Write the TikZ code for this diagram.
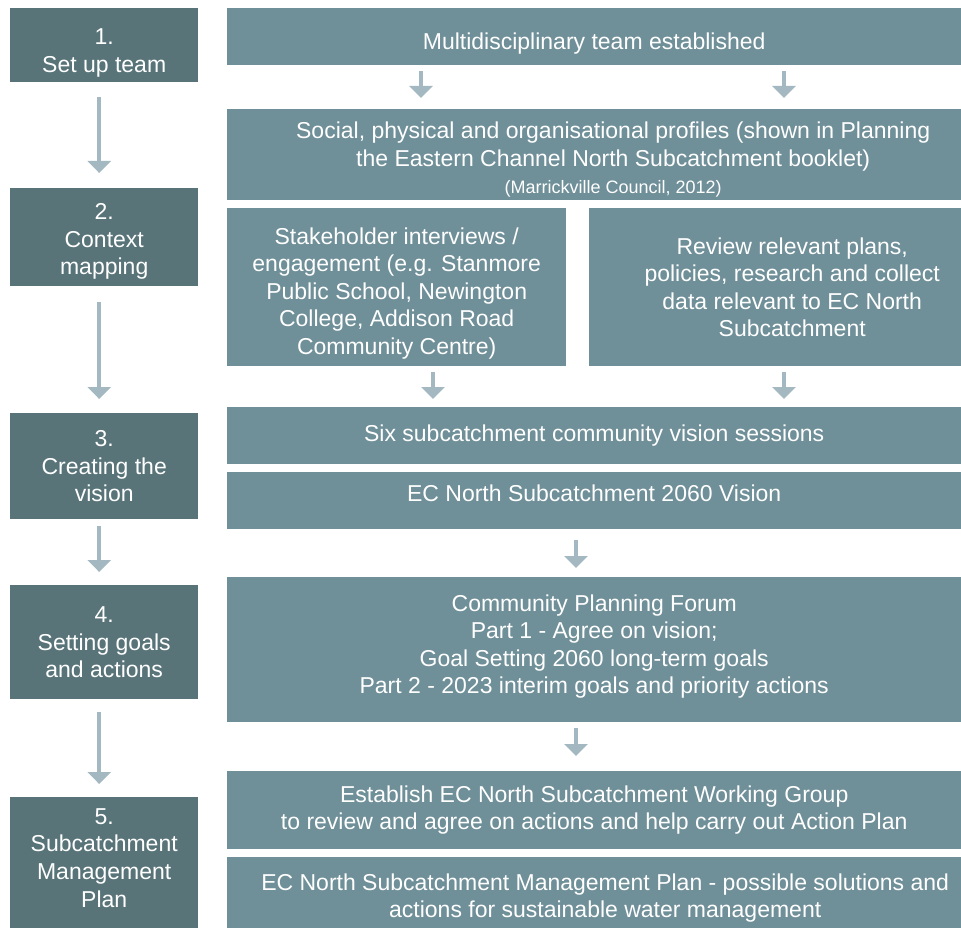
\documentclass[tikz,border=0pt]{standalone}
\usepackage{fontspec}
\setmainfont{Liberation Sans}
\usetikzlibrary{positioning, calc, arrows.meta}
\definecolor{stepgrey}{HTML}{587479}
\definecolor{boxgrey}{HTML}{6F8F99}
\definecolor{flowgrey}{HTML}{A3B8C0}
\newcommand{\dropto}[1]{\rule{0pt}{#1}}

\begin{document}
\begin{tikzpicture}[x=1pt, y=-1pt,
    stepbox/.style={fill=stepgrey, text=white, align=center, inner sep=0pt,
        anchor=north west, minimum width=188pt, font=\fontsize{23}{27.6}\selectfont},
    infobox/.style={fill=boxgrey, text=white, align=center, inner sep=0pt,
        anchor=north west, minimum width=734pt, font=\fontsize{23}{27.6}\selectfont},
    textup/.style={execute at end node={\rule[-#1]{0pt}{0pt}}},
    flow/.style={draw=flowgrey, line width=3.5pt, -{Triangle[width=23pt,length=12pt]}}]

    \useasboundingbox (0,0) rectangle (961,928);

    % Steps (left column)
    \node[stepbox, minimum height=74pt]  (s1) at (10,8)   {\dropto{31pt}1.\\Set up team};
    \node[stepbox, minimum height=98pt]  (s2) at (10,188) {\dropto{25pt}2.\\Context\\mapping};
    \node[stepbox, minimum height=106pt] (s3) at (10,413) {3.\\Creating the\\vision};
    \node[stepbox, minimum height=114pt] (s4) at (10,585) {4.\\Setting goals\\and actions};
    \node[stepbox, minimum height=131pt, textup=10pt] (s5) at (10,797) {5.\\Subcatchment\\Management\\Plan};

    % Activities (right column)
    \node[infobox, minimum height=57pt] (team) at (227,8) {\dropto{31pt}Multidisciplinary team established};
    \node[infobox, minimum width=772pt, minimum height=91pt] (profiles) at (227,109)
        {\dropto{27pt}Social, physical and organisational profiles (shown in Planning\\
         the Eastern Channel North Subcatchment booklet)\\
         {\fontsize{18}{20}\selectfont (Marrickville Council, 2012)}};
    \node[infobox, minimum width=339pt, minimum height=158pt] (interviews) at (227,208)
        {\dropto{29pt}Stakeholder interviews /\\engagement (e.g. Stanmore\\Public School, Newington\\
         College, Addison Road\\Community Centre)};
    \node[infobox, minimum width=406pt, minimum height=158pt] (review) at (589,208)
        {Review relevant plans,\\policies, research and collect\\data relevant to EC North\\Subcatchment};
    \node[infobox, minimum height=57pt] (sessions) at (227,407) {Six subcatchment community vision sessions};
    \node[infobox, minimum height=57pt, textup=16pt] (vision) at (227,472) {EC North Subcatchment 2060 Vision};
    \node[infobox, minimum height=145pt, textup=11pt] (forum) at (227,577)
        {Community Planning Forum\\Part 1 - Agree on vision;\\Goal Setting 2060 long-term goals\\
         Part 2 - 2023 interim goals and priority actions};
    \node[infobox, minimum height=78pt] (group) at (227,771)
        {Establish EC North Subcatchment Working Group\\
         to review and agree on actions and help carry out Action Plan};
    \node[infobox, minimum width=756pt, minimum height=71pt] (plan) at (227,857)
        {\dropto{27pt}EC North Subcatchment Management Plan - possible solutions and\\
         actions for sustainable water management};

    % Arrow columns
    \coordinate (colA) at (421,0);
    \coordinate (colB) at (784,0);
    \coordinate (colC) at (433,0);
    \coordinate (colD) at (576,0);

    % Arrows between steps
    \draw[flow, shorten <=15pt, shorten >=15pt] ([xshift=-5pt]s1.south) -- ([xshift=-5pt]s2.north);
    \draw[flow, shorten <=16pt, shorten >=14pt] ([xshift=-5pt]s2.south) -- ([xshift=-5pt]s3.north);
    \draw[flow, shorten <=7pt, shorten >=13pt]  ([xshift=-5pt]s3.south) -- ([xshift=-5pt]s4.north);
    \draw[flow, shorten <=13pt, shorten >=13pt] ([xshift=-5pt]s4.south) -- ([xshift=-5pt]s5.north);

    % Arrows between activities
    \draw[flow, shorten <=6pt, shorten >=11pt] (team.south -| colA) -- (profiles.north -| colA);
    \draw[flow, shorten <=6pt, shorten >=11pt] (team.south -| colB) -- (profiles.north -| colB);
    \draw[flow, shorten <=6pt, shorten >=8pt] (interviews.south -| colC) -- (sessions.north -| colC);
    \draw[flow, shorten <=6pt, shorten >=8pt] (review.south -| colB) -- (sessions.north -| colB);
    \draw[flow, shorten <=11pt, shorten >=9pt] (vision.south -| colD) -- (forum.north -| colD);
    \draw[flow, shorten <=6pt, shorten >=15pt] (forum.south -| colD) -- (group.north -| colD);
\end{tikzpicture}
\end{document}
